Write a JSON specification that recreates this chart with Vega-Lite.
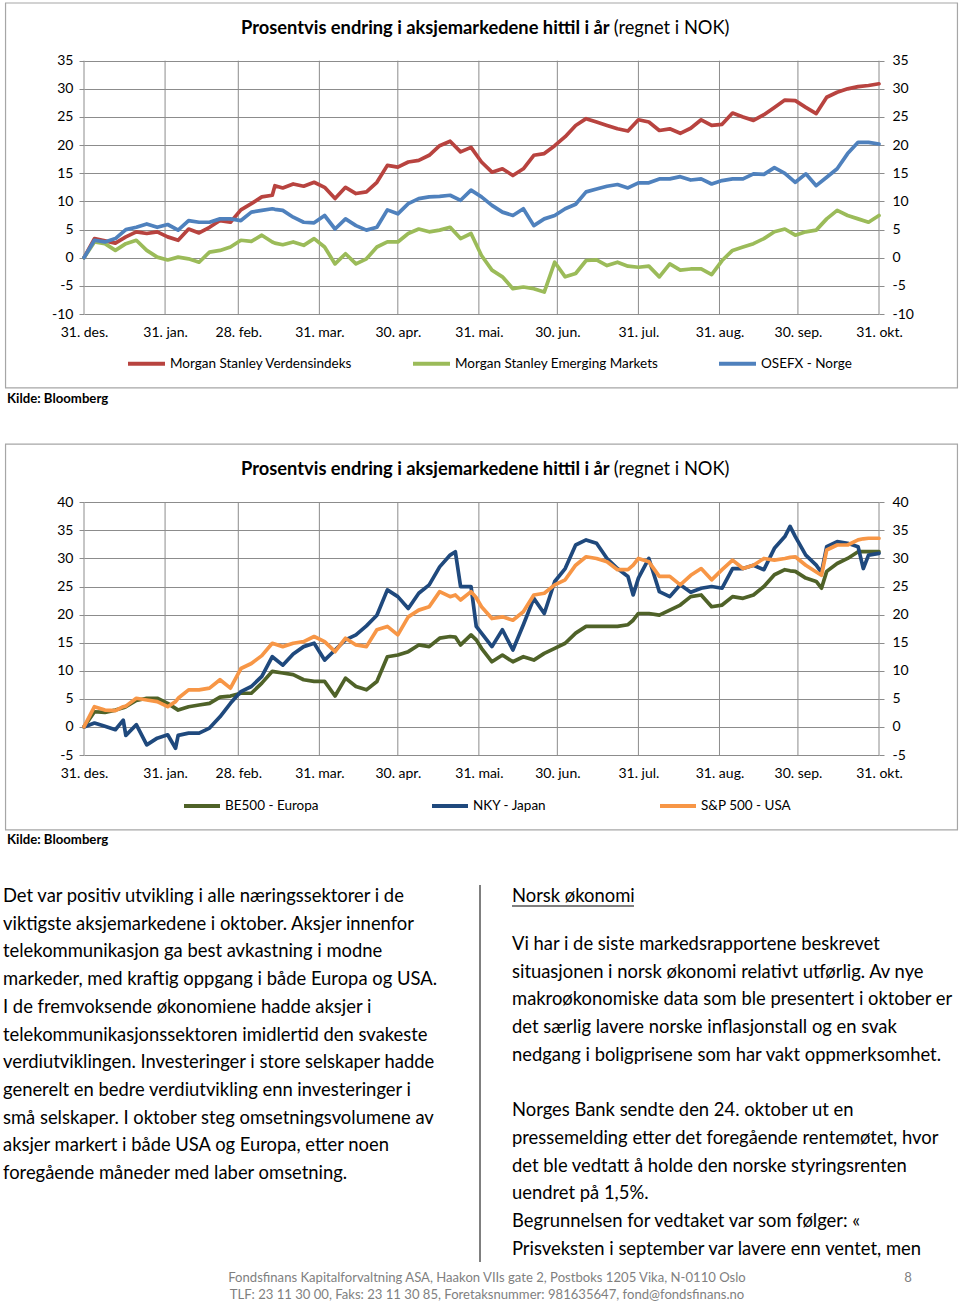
{
  "$schema": "https://vega.github.io/schema/vega-lite/v6.json",
  "width": 960,
  "height": 1304,
  "autosize": "none",
  "padding": 0,
  "background": "white",
  "config": {
    "font": "Lato",
    "view": {"stroke": null},
    "axis": {"labelFont": "Lato", "labelFontSize": 14, "labelColor": "#000000", "title": null},
    "legend": {"labelFont": "Lato", "labelFontSize": 13.5, "labelColor": "#000000", "labelLimit": 400}
  },
  "datasets": {
    "maanedsslutt": [
      {"dato": "2012-12-31"}, {"dato": "2013-01-31"}, {"dato": "2013-02-28"}, {"dato": "2013-03-31"},
      {"dato": "2013-04-30"}, {"dato": "2013-05-31"}, {"dato": "2013-06-30"}, {"dato": "2013-07-31"},
      {"dato": "2013-08-31"}, {"dato": "2013-09-30"}, {"dato": "2013-10-31"}
    ],
    "diagram1": [
      {"dato": "2012-12-31", "verden": 0, "fremvoksende": 0, "osefx": 0},
      {"dato": "2013-01-04", "verden": 3.4, "fremvoksende": 2.8, "osefx": 3.1},
      {"dato": "2013-01-08", "verden": 3.0, "fremvoksende": 2.5, "osefx": 2.8},
      {"dato": "2013-01-12", "verden": 2.6, "fremvoksende": 1.3, "osefx": 3.4},
      {"dato": "2013-01-16", "verden": 3.7, "fremvoksende": 2.5, "osefx": 5.0},
      {"dato": "2013-01-20", "verden": 4.6, "fremvoksende": 3.1, "osefx": 5.4},
      {"dato": "2013-01-24", "verden": 4.3, "fremvoksende": 1.3, "osefx": 6.0},
      {"dato": "2013-01-28", "verden": 4.6, "fremvoksende": 0.1, "osefx": 5.4},
      {"dato": "2013-02-01", "verden": 3.7, "fremvoksende": -0.4, "osefx": 5.9},
      {"dato": "2013-02-05", "verden": 3.1, "fremvoksende": 0.1, "osefx": 4.9},
      {"dato": "2013-02-09", "verden": 5.1, "fremvoksende": -0.2, "osefx": 6.6},
      {"dato": "2013-02-13", "verden": 4.4, "fremvoksende": -0.8, "osefx": 6.3},
      {"dato": "2013-02-17", "verden": 5.4, "fremvoksende": 1.0, "osefx": 6.3},
      {"dato": "2013-02-21", "verden": 6.6, "fremvoksende": 1.3, "osefx": 6.9},
      {"dato": "2013-02-25", "verden": 6.3, "fremvoksende": 1.9, "osefx": 6.9},
      {"dato": "2013-03-01", "verden": 8.5, "fremvoksende": 3.1, "osefx": 6.6},
      {"dato": "2013-03-05", "verden": 9.6, "fremvoksende": 2.9, "osefx": 8.1},
      {"dato": "2013-03-09", "verden": 10.8, "fremvoksende": 4.0, "osefx": 8.4},
      {"dato": "2013-03-13", "verden": 11.1, "fremvoksende": 2.8, "osefx": 8.7},
      {"dato": "2013-03-14", "verden": 12.8, "fremvoksende": 2.6, "osefx": 8.6},
      {"dato": "2013-03-17", "verden": 12.4, "fremvoksende": 2.3, "osefx": 8.4},
      {"dato": "2013-03-21", "verden": 13.1, "fremvoksende": 2.8, "osefx": 7.2},
      {"dato": "2013-03-25", "verden": 12.7, "fremvoksende": 2.2, "osefx": 6.3},
      {"dato": "2013-03-29", "verden": 13.4, "fremvoksende": 3.4, "osefx": 6.2},
      {"dato": "2013-04-02", "verden": 12.5, "fremvoksende": 1.9, "osefx": 7.5},
      {"dato": "2013-04-06", "verden": 10.5, "fremvoksende": -1.1, "osefx": 5.1},
      {"dato": "2013-04-10", "verden": 12.5, "fremvoksende": 0.7, "osefx": 6.9},
      {"dato": "2013-04-14", "verden": 11.4, "fremvoksende": -1.1, "osefx": 5.7},
      {"dato": "2013-04-18", "verden": 11.7, "fremvoksende": -0.2, "osefx": 4.9},
      {"dato": "2013-04-22", "verden": 13.4, "fremvoksende": 1.9, "osefx": 5.4},
      {"dato": "2013-04-26", "verden": 16.4, "fremvoksende": 2.8, "osefx": 8.5},
      {"dato": "2013-04-30", "verden": 16.1, "fremvoksende": 2.8, "osefx": 7.8},
      {"dato": "2013-05-04", "verden": 17.0, "fremvoksende": 4.3, "osefx": 9.6},
      {"dato": "2013-05-08", "verden": 17.3, "fremvoksende": 5.1, "osefx": 10.5},
      {"dato": "2013-05-12", "verden": 18.2, "fremvoksende": 4.6, "osefx": 10.8},
      {"dato": "2013-05-16", "verden": 19.9, "fremvoksende": 4.9, "osefx": 10.9},
      {"dato": "2013-05-20", "verden": 20.7, "fremvoksende": 5.4, "osefx": 11.1},
      {"dato": "2013-05-24", "verden": 18.8, "fremvoksende": 3.4, "osefx": 10.2},
      {"dato": "2013-05-28", "verden": 19.6, "fremvoksende": 4.3, "osefx": 12.0},
      {"dato": "2013-06-01", "verden": 17.0, "fremvoksende": 0.4, "osefx": 10.8},
      {"dato": "2013-06-05", "verden": 15.2, "fremvoksende": -2.2, "osefx": 9.3},
      {"dato": "2013-06-09", "verden": 15.8, "fremvoksende": -3.4, "osefx": 8.1},
      {"dato": "2013-06-13", "verden": 14.6, "fremvoksende": -5.5, "osefx": 7.5},
      {"dato": "2013-06-17", "verden": 15.8, "fremvoksende": -5.2, "osefx": 8.7},
      {"dato": "2013-06-21", "verden": 18.2, "fremvoksende": -5.5, "osefx": 5.7},
      {"dato": "2013-06-25", "verden": 18.5, "fremvoksende": -6.1, "osefx": 6.9},
      {"dato": "2013-06-29", "verden": 19.9, "fremvoksende": -0.8, "osefx": 7.5},
      {"dato": "2013-07-03", "verden": 21.5, "fremvoksende": -3.4, "osefx": 8.7},
      {"dato": "2013-07-07", "verden": 23.5, "fremvoksende": -2.8, "osefx": 9.5},
      {"dato": "2013-07-11", "verden": 24.7, "fremvoksende": -0.5, "osefx": 11.7},
      {"dato": "2013-07-15", "verden": 24.1, "fremvoksende": -0.4, "osefx": 12.2},
      {"dato": "2013-07-19", "verden": 23.5, "fremvoksende": -1.4, "osefx": 12.7},
      {"dato": "2013-07-23", "verden": 22.9, "fremvoksende": -0.8, "osefx": 13.0},
      {"dato": "2013-07-27", "verden": 22.5, "fremvoksende": -1.5, "osefx": 12.4},
      {"dato": "2013-07-31", "verden": 24.5, "fremvoksende": -1.7, "osefx": 13.3},
      {"dato": "2013-08-04", "verden": 24.1, "fremvoksende": -1.5, "osefx": 13.3},
      {"dato": "2013-08-08", "verden": 22.6, "fremvoksende": -3.4, "osefx": 14.0},
      {"dato": "2013-08-12", "verden": 22.9, "fremvoksende": -1.1, "osefx": 14.0},
      {"dato": "2013-08-16", "verden": 22.1, "fremvoksende": -2.2, "osefx": 14.4},
      {"dato": "2013-08-20", "verden": 23.0, "fremvoksende": -2.0, "osefx": 13.8},
      {"dato": "2013-08-24", "verden": 24.5, "fremvoksende": -2.0, "osefx": 14.0},
      {"dato": "2013-08-28", "verden": 23.5, "fremvoksende": -3.0, "osefx": 13.1},
      {"dato": "2013-09-01", "verden": 23.7, "fremvoksende": -0.5, "osefx": 13.7},
      {"dato": "2013-09-05", "verden": 25.7, "fremvoksende": 1.3, "osefx": 14.0},
      {"dato": "2013-09-09", "verden": 25.0, "fremvoksende": 1.9, "osefx": 14.0},
      {"dato": "2013-09-13", "verden": 24.4, "fremvoksende": 2.5, "osefx": 14.9},
      {"dato": "2013-09-17", "verden": 25.4, "fremvoksende": 3.4, "osefx": 14.8},
      {"dato": "2013-09-21", "verden": 26.7, "fremvoksende": 4.6, "osefx": 16.0},
      {"dato": "2013-09-25", "verden": 28.0, "fremvoksende": 5.1, "osefx": 15.0},
      {"dato": "2013-09-29", "verden": 27.9, "fremvoksende": 4.0, "osefx": 13.4},
      {"dato": "2013-10-03", "verden": 26.7, "fremvoksende": 4.6, "osefx": 14.9},
      {"dato": "2013-10-07", "verden": 25.6, "fremvoksende": 4.9, "osefx": 12.8},
      {"dato": "2013-10-11", "verden": 28.5, "fremvoksende": 6.9, "osefx": 14.3},
      {"dato": "2013-10-15", "verden": 29.4, "fremvoksende": 8.4, "osefx": 15.8},
      {"dato": "2013-10-19", "verden": 30.0, "fremvoksende": 7.5, "osefx": 18.5},
      {"dato": "2013-10-23", "verden": 30.4, "fremvoksende": 6.9, "osefx": 20.5},
      {"dato": "2013-10-27", "verden": 30.6, "fremvoksende": 6.3, "osefx": 20.5},
      {"dato": "2013-10-31", "verden": 30.9, "fremvoksende": 7.5, "osefx": 20.2}
    ],
    "diagram2": [
      {"dato": "2012-12-31", "europa": 0, "japan": 0, "usa": 0},
      {"dato": "2013-01-04", "europa": 2.7, "japan": 0.7, "usa": 3.6},
      {"dato": "2013-01-08", "europa": 2.6, "japan": 0.1, "usa": 3.0},
      {"dato": "2013-01-12", "europa": 3.0, "japan": -0.5, "usa": 2.9},
      {"dato": "2013-01-15", "europa": 3.4, "japan": 1.2, "usa": 3.6},
      {"dato": "2013-01-16", "europa": 3.6, "japan": -1.5, "usa": 3.7},
      {"dato": "2013-01-20", "europa": 4.7, "japan": 0.4, "usa": 5.1},
      {"dato": "2013-01-24", "europa": 5.1, "japan": -3.2, "usa": 4.8},
      {"dato": "2013-01-28", "europa": 5.1, "japan": -2.0, "usa": 4.5},
      {"dato": "2013-02-01", "europa": 4.2, "japan": -1.4, "usa": 3.6},
      {"dato": "2013-02-04", "europa": 3.3, "japan": -3.8, "usa": 4.5},
      {"dato": "2013-02-05", "europa": 3.0, "japan": -1.5, "usa": 5.1},
      {"dato": "2013-02-09", "europa": 3.6, "japan": -1.1, "usa": 6.6},
      {"dato": "2013-02-13", "europa": 3.9, "japan": -1.1, "usa": 6.6},
      {"dato": "2013-02-17", "europa": 4.2, "japan": -0.2, "usa": 6.9},
      {"dato": "2013-02-21", "europa": 5.3, "japan": 1.8, "usa": 8.4},
      {"dato": "2013-02-25", "europa": 5.5, "japan": 4.2, "usa": 6.9},
      {"dato": "2013-03-01", "europa": 6.0, "japan": 6.3, "usa": 10.4},
      {"dato": "2013-03-05", "europa": 6.0, "japan": 7.2, "usa": 11.3},
      {"dato": "2013-03-09", "europa": 7.8, "japan": 9.0, "usa": 12.7},
      {"dato": "2013-03-13", "europa": 9.9, "japan": 12.5, "usa": 14.9},
      {"dato": "2013-03-17", "europa": 9.6, "japan": 11.0, "usa": 14.3},
      {"dato": "2013-03-21", "europa": 9.3, "japan": 13.0, "usa": 14.9},
      {"dato": "2013-03-25", "europa": 8.4, "japan": 14.3, "usa": 15.2},
      {"dato": "2013-03-29", "europa": 8.1, "japan": 14.9, "usa": 16.1},
      {"dato": "2013-04-02", "europa": 8.1, "japan": 11.9, "usa": 15.2},
      {"dato": "2013-04-06", "europa": 5.5, "japan": 13.7, "usa": 13.4},
      {"dato": "2013-04-10", "europa": 8.7, "japan": 15.5, "usa": 15.8},
      {"dato": "2013-04-14", "europa": 7.2, "japan": 16.4, "usa": 14.6},
      {"dato": "2013-04-18", "europa": 6.6, "japan": 18.0, "usa": 14.3},
      {"dato": "2013-04-22", "europa": 8.1, "japan": 19.9, "usa": 17.3},
      {"dato": "2013-04-26", "europa": 12.5, "japan": 24.4, "usa": 17.9},
      {"dato": "2013-04-30", "europa": 12.8, "japan": 23.2, "usa": 16.4},
      {"dato": "2013-05-04", "europa": 13.4, "japan": 21.1, "usa": 19.6},
      {"dato": "2013-05-08", "europa": 14.6, "japan": 23.8, "usa": 20.8},
      {"dato": "2013-05-12", "europa": 14.3, "japan": 25.3, "usa": 21.4},
      {"dato": "2013-05-16", "europa": 15.8, "japan": 28.5, "usa": 24.1},
      {"dato": "2013-05-20", "europa": 16.1, "japan": 30.6, "usa": 23.2},
      {"dato": "2013-05-22", "europa": 16.0, "japan": 31.2, "usa": 23.5},
      {"dato": "2013-05-24", "europa": 14.6, "japan": 25.0, "usa": 22.6},
      {"dato": "2013-05-28", "europa": 16.4, "japan": 25.0, "usa": 24.1},
      {"dato": "2013-05-30", "europa": 15.5, "japan": 17.9, "usa": 23.0},
      {"dato": "2013-06-01", "europa": 14.0, "japan": 16.7, "usa": 21.4},
      {"dato": "2013-06-05", "europa": 11.6, "japan": 14.3, "usa": 19.3},
      {"dato": "2013-06-09", "europa": 12.8, "japan": 17.3, "usa": 19.6},
      {"dato": "2013-06-13", "europa": 11.6, "japan": 13.7, "usa": 19.0},
      {"dato": "2013-06-17", "europa": 12.5, "japan": 18.2, "usa": 20.5},
      {"dato": "2013-06-21", "europa": 11.9, "japan": 22.9, "usa": 23.5},
      {"dato": "2013-06-25", "europa": 13.1, "japan": 20.2, "usa": 23.8},
      {"dato": "2013-06-29", "europa": 14.0, "japan": 25.9, "usa": 25.3},
      {"dato": "2013-07-03", "europa": 14.9, "japan": 28.2, "usa": 26.2},
      {"dato": "2013-07-07", "europa": 16.7, "japan": 32.4, "usa": 28.8},
      {"dato": "2013-07-11", "europa": 17.9, "japan": 33.3, "usa": 30.3},
      {"dato": "2013-07-15", "europa": 17.9, "japan": 32.7, "usa": 30.0},
      {"dato": "2013-07-19", "europa": 17.9, "japan": 30.0, "usa": 29.4},
      {"dato": "2013-07-23", "europa": 17.9, "japan": 28.2, "usa": 28.0},
      {"dato": "2013-07-27", "europa": 18.2, "japan": 26.8, "usa": 28.0},
      {"dato": "2013-07-29", "europa": 19.0, "japan": 23.5, "usa": 28.8},
      {"dato": "2013-07-31", "europa": 20.2, "japan": 26.5, "usa": 30.0},
      {"dato": "2013-08-04", "europa": 20.2, "japan": 30.0, "usa": 29.4},
      {"dato": "2013-08-08", "europa": 19.9, "japan": 24.1, "usa": 26.8},
      {"dato": "2013-08-12", "europa": 20.8, "japan": 23.2, "usa": 26.8},
      {"dato": "2013-08-16", "europa": 21.7, "japan": 25.3, "usa": 25.3},
      {"dato": "2013-08-20", "europa": 23.2, "japan": 24.0, "usa": 27.0},
      {"dato": "2013-08-24", "europa": 23.5, "japan": 24.7, "usa": 28.2},
      {"dato": "2013-08-28", "europa": 21.4, "japan": 25.0, "usa": 26.2},
      {"dato": "2013-09-01", "europa": 21.7, "japan": 24.7, "usa": 28.0},
      {"dato": "2013-09-05", "europa": 23.2, "japan": 28.2, "usa": 29.7},
      {"dato": "2013-09-09", "europa": 22.9, "japan": 28.2, "usa": 28.2},
      {"dato": "2013-09-13", "europa": 23.5, "japan": 28.8, "usa": 28.8},
      {"dato": "2013-09-17", "europa": 25.0, "japan": 28.0, "usa": 30.0},
      {"dato": "2013-09-21", "europa": 27.1, "japan": 31.8, "usa": 29.7},
      {"dato": "2013-09-25", "europa": 28.0, "japan": 33.9, "usa": 30.0},
      {"dato": "2013-09-27", "europa": 27.8, "japan": 35.7, "usa": 30.2},
      {"dato": "2013-09-29", "europa": 27.7, "japan": 33.9, "usa": 30.3},
      {"dato": "2013-10-03", "europa": 26.5, "japan": 30.6, "usa": 28.8},
      {"dato": "2013-10-07", "europa": 25.9, "japan": 28.8, "usa": 27.6},
      {"dato": "2013-10-09", "europa": 24.7, "japan": 27.5, "usa": 27.0},
      {"dato": "2013-10-11", "europa": 27.7, "japan": 32.1, "usa": 31.5},
      {"dato": "2013-10-15", "europa": 29.1, "japan": 33.0, "usa": 32.4},
      {"dato": "2013-10-19", "europa": 30.0, "japan": 32.7, "usa": 32.4},
      {"dato": "2013-10-23", "europa": 31.2, "japan": 32.1, "usa": 33.3},
      {"dato": "2013-10-25", "europa": 31.2, "japan": 28.2, "usa": 33.5},
      {"dato": "2013-10-27", "europa": 31.2, "japan": 30.6, "usa": 33.6},
      {"dato": "2013-10-31", "europa": 31.2, "japan": 30.9, "usa": 33.6}
    ],
    "tekst_venstre": [
      {"spalte": "venstre", "linje": 1, "tekst": "Det var positiv utvikling i alle næringssektorer i de"},
      {"spalte": "venstre", "linje": 2, "tekst": "viktigste aksjemarkedene i oktober. Aksjer innenfor"},
      {"spalte": "venstre", "linje": 3, "tekst": "telekommunikasjon ga best avkastning i modne"},
      {"spalte": "venstre", "linje": 4, "tekst": "markeder, med kraftig oppgang i både Europa og USA."},
      {"spalte": "venstre", "linje": 5, "tekst": "I de fremvoksende økonomiene hadde aksjer i"},
      {"spalte": "venstre", "linje": 6, "tekst": "telekommunikasjonssektoren imidlertid den svakeste"},
      {"spalte": "venstre", "linje": 7, "tekst": "verdiutviklingen. Investeringer i store selskaper hadde"},
      {"spalte": "venstre", "linje": 8, "tekst": "generelt en bedre verdiutvikling enn investeringer i"},
      {"spalte": "venstre", "linje": 9, "tekst": "små selskaper. I oktober steg omsetningsvolumene av"},
      {"spalte": "venstre", "linje": 10, "tekst": "aksjer markert i både USA og Europa, etter noen"},
      {"spalte": "venstre", "linje": 11, "tekst": "foregående måneder med laber omsetning."},
      {"spalte": "høyre", "linje": 1, "tekst": "Norsk økonomi"}
    ],
    "tekst_hoyre": [
      {"spalte": "høyre", "linje": 1, "tekst": "Vi har i de siste markedsrapportene beskrevet"},
      {"spalte": "høyre", "linje": 2, "tekst": "situasjonen i norsk økonomi relativt utførlig. Av nye"},
      {"spalte": "høyre", "linje": 3, "tekst": "makroøkonomiske data som ble presentert i oktober er"},
      {"spalte": "høyre", "linje": 4, "tekst": "det særlig lavere norske inflasjonstall og en svak"},
      {"spalte": "høyre", "linje": 5, "tekst": "nedgang i boligprisene som har vakt oppmerksomhet."},
      {"spalte": "høyre", "linje": 7, "tekst": "Norges Bank sendte den 24. oktober ut en"},
      {"spalte": "høyre", "linje": 8, "tekst": "pressemelding etter det foregående rentemøtet, hvor"},
      {"spalte": "høyre", "linje": 9, "tekst": "det ble vedtatt å holde den norske styringsrenten"},
      {"spalte": "høyre", "linje": 10, "tekst": "uendret på 1,5%."},
      {"spalte": "høyre", "linje": 11, "tekst": "Begrunnelsen for vedtaket var som følger: «"},
      {"spalte": "høyre", "linje": 12, "tekst": "Prisveksten i september var lavere enn ventet, men"}
    ],
    "bunntekst": [
      {"posisjon": "midt", "linje": 1, "tekst": "Fondsfinans Kapitalforvaltning ASA, Haakon VIIs gate 2, Postboks 1205 Vika, N-0110 Oslo"},
      {"posisjon": "midt", "linje": 2, "tekst": "TLF: 23 11 30 00, Faks: 23 11 30 85, Foretaksnummer: 981635647, fond@fondsfinans.no"},
      {"posisjon": "side", "linje": 1, "tekst": "8"}
    ]
  },
  "layer": [
    {
      "layer": [
        {
          "data": {"values": [{}]},
          "mark": {"type": "rect", "fill": "transparent", "stroke": "#A6A6A6", "strokeWidth": 1.2},
          "encoding": {
            "x": {"datum": {"year": 2012, "month": 12, "date": 1, "utc": true}, "type": "temporal", "axis": null,
              "scale": {"type": "utc", "domain": [{"year": 2012, "month": 12, "date": 31, "utc": true}, {"year": 2013, "month": 10, "date": 31, "utc": true}], "range": [84, 879], "nice": false}},
            "x2": {"datum": {"year": 2013, "month": 11, "date": 30, "utc": true}},
            "y": {"datum": 45.25, "type": "quantitative", "axis": null, "scale": {"domain": [-10, 35], "range": [314, 60.7], "nice": false, "zero": false}},
            "y2": {"datum": -23.14}
          }
        },
        {
          "data": {"name": "maanedsslutt"},
          "mark": {"type": "rule", "color": "#8C8C8C", "strokeWidth": 1},
          "encoding": {
            "x": {"field": "dato", "type": "temporal", "axis": null,
              "scale": {"type": "utc", "domain": [{"year": 2012, "month": 12, "date": 31, "utc": true}, {"year": 2013, "month": 10, "date": 31, "utc": true}], "range": [84, 879], "nice": false}},
            "y": {"datum": -10, "type": "quantitative", "axis": null, "scale": {"domain": [-10, 35], "range": [314, 60.7], "nice": false, "zero": false}},
            "y2": {"datum": 35}
          }
        },
        {
          "data": {"name": "diagram1"},
          "transform": [{"fold": ["verden", "fremvoksende", "osefx"], "as": ["serie", "prosent"]}],
          "mark": {"type": "line", "strokeWidth": 3.7, "strokeJoin": "round", "strokeCap": "round"},
          "encoding": {
            "x": {"field": "dato", "type": "temporal",
              "scale": {"type": "utc", "domain": [{"year": 2012, "month": 12, "date": 31, "utc": true}, {"year": 2013, "month": 10, "date": 31, "utc": true}], "range": [84, 879], "nice": false},
              "axis": {"orient": "bottom", "offset": -990, "grid": false, "domain": false, "ticks": false, "labelPadding": 11, "labelOverlap": false, "labelFlush": false,
                "values": [{"year": 2012, "month": 12, "date": 31, "utc": true}, {"year": 2013, "month": 1, "date": 31, "utc": true}, {"year": 2013, "month": 2, "date": 28, "utc": true}, {"year": 2013, "month": 3, "date": 31, "utc": true}, {"year": 2013, "month": 4, "date": 30, "utc": true}, {"year": 2013, "month": 5, "date": 31, "utc": true}, {"year": 2013, "month": 6, "date": 30, "utc": true}, {"year": 2013, "month": 7, "date": 31, "utc": true}, {"year": 2013, "month": 8, "date": 31, "utc": true}, {"year": 2013, "month": 9, "date": 30, "utc": true}, {"year": 2013, "month": 10, "date": 31, "utc": true}],
                "labelExpr": "utcdate(datum.value) + '. ' + ['jan.','feb.','mar.','apr.','mai.','jun.','jul.','aug.','sep.','okt.','nov.','des.'][utcmonth(datum.value)]"}},
            "y": {"field": "prosent", "type": "quantitative",
              "scale": {"domain": [-10, 35], "range": [314, 60.7], "nice": false, "zero": false},
              "axis": {"orient": "left", "offset": -84, "values": [-10, -5, 0, 5, 10, 15, 20, 25, 30, 35], "grid": true, "gridColor": "#8C8C8C", "gridWidth": 1, "domain": false, "ticks": true, "tickSize": 5, "tickColor": "#8C8C8C", "labelPadding": 6, "labelExpr": "'' + datum.value"}},
            "color": {"field": "serie", "type": "nominal",
              "scale": {"domain": ["verden", "fremvoksende", "osefx"], "range": ["#B8433F", "#9BBB59", "#4F81BD"]},
              "legend": {"orient": "none", "legendX": 126, "legendY": 343, "direction": "horizontal", "title": null, "symbolType": "stroke", "symbolSize": 1369, "symbolStrokeWidth": 4, "columnPadding": 52, "labelOffset": 3,
                "labelExpr": "datum.value == 'verden' ? 'Morgan Stanley Verdensindeks' : datum.value == 'fremvoksende' ? 'Morgan Stanley Emerging Markets' : 'OSEFX - Norge'"}}
          }
        },
        {
          "data": {"name": "diagram1"},
          "transform": [{"fold": ["verden", "fremvoksende", "osefx"], "as": ["serie", "prosent"]}],
          "mark": {"type": "line", "opacity": 0},
          "encoding": {
            "x": {"field": "dato", "type": "temporal", "axis": null,
              "scale": {"type": "utc", "domain": [{"year": 2012, "month": 12, "date": 31, "utc": true}, {"year": 2013, "month": 10, "date": 31, "utc": true}], "range": [84, 879], "nice": false}},
            "y": {"field": "prosent", "type": "quantitative",
              "scale": {"domain": [-10, 35], "range": [314, 60.7], "nice": false, "zero": false},
              "axis": {"orient": "right", "offset": -81, "values": [-10, -5, 0, 5, 10, 15, 20, 25, 30, 35], "grid": false, "domain": false, "ticks": true, "tickSize": 5, "tickColor": "#8C8C8C", "labelPadding": 8, "labelExpr": "'' + datum.value"}},
            "detail": {"field": "serie"}
          }
        },
        {
          "data": {"values": [{}]},
          "mark": {"type": "text", "text": "Prosentvis endring i aksjemarkedene hittil i år", "align": "right", "baseline": "middle", "fontWeight": "bold", "fontSize": 18.3, "font": "Lato"},
          "encoding": {
            "x": {"datum": {"year": 2013, "month": 7, "date": 20, "utc": true}, "type": "temporal", "axis": null,
              "scale": {"type": "utc", "domain": [{"year": 2012, "month": 12, "date": 31, "utc": true}, {"year": 2013, "month": 10, "date": 31, "utc": true}], "range": [84, 879], "nice": false}},
            "y": {"datum": 40.63, "type": "quantitative", "axis": null, "scale": {"domain": [-10, 35], "range": [314, 60.7], "nice": false, "zero": false}}
          }
        },
        {
          "data": {"values": [{}]},
          "mark": {"type": "text", "text": "(regnet i NOK)", "align": "left", "dx": 4, "baseline": "middle", "fontSize": 18.3, "font": "Lato"},
          "encoding": {
            "x": {"datum": {"year": 2013, "month": 7, "date": 20, "utc": true}, "type": "temporal", "axis": null,
              "scale": {"type": "utc", "domain": [{"year": 2012, "month": 12, "date": 31, "utc": true}, {"year": 2013, "month": 10, "date": 31, "utc": true}], "range": [84, 879], "nice": false}},
            "y": {"datum": 40.63, "type": "quantitative", "axis": null, "scale": {"domain": [-10, 35], "range": [314, 60.7], "nice": false, "zero": false}}
          }
        },
        {
          "data": {"values": [{}]},
          "mark": {"type": "text", "text": "Kilde: Bloomberg", "align": "left", "dx": 1.5, "baseline": "middle", "fontWeight": "bold", "fontSize": 13.2, "font": "Lato"},
          "encoding": {
            "x": {"datum": {"year": 2012, "month": 12, "date": 1, "utc": true}, "type": "temporal", "axis": null,
              "scale": {"type": "utc", "domain": [{"year": 2012, "month": 12, "date": 31, "utc": true}, {"year": 2013, "month": 10, "date": 31, "utc": true}], "range": [84, 879], "nice": false}},
            "y": {"datum": -25.1, "type": "quantitative", "axis": null, "scale": {"domain": [-10, 35], "range": [314, 60.7], "nice": false, "zero": false}}
          }
        }
      ],
      "resolve": {"axis": {"x": "independent", "y": "independent"}}
    },
    {
      "layer": [
        {
          "data": {"values": [{}]},
          "mark": {"type": "rect", "fill": "transparent", "stroke": "#A6A6A6", "strokeWidth": 1.2},
          "encoding": {
            "x": {"datum": {"year": 2012, "month": 12, "date": 1, "utc": true}, "type": "temporal", "axis": null,
              "scale": {"type": "utc", "domain": [{"year": 2012, "month": 12, "date": 31, "utc": true}, {"year": 2013, "month": 10, "date": 31, "utc": true}], "range": [84, 879], "nice": false}},
            "x2": {"datum": {"year": 2013, "month": 11, "date": 30, "utc": true}},
            "y": {"datum": 50.37, "type": "quantitative", "axis": null, "scale": {"domain": [-5, 40], "range": [755, 502.3], "nice": false, "zero": false}},
            "y2": {"datum": -18.35}
          }
        },
        {
          "data": {"name": "maanedsslutt"},
          "mark": {"type": "rule", "color": "#8C8C8C", "strokeWidth": 1},
          "encoding": {
            "x": {"field": "dato", "type": "temporal", "axis": null,
              "scale": {"type": "utc", "domain": [{"year": 2012, "month": 12, "date": 31, "utc": true}, {"year": 2013, "month": 10, "date": 31, "utc": true}], "range": [84, 879], "nice": false}},
            "y": {"datum": -5, "type": "quantitative", "axis": null, "scale": {"domain": [-5, 40], "range": [755, 502.3], "nice": false, "zero": false}},
            "y2": {"datum": 40}
          }
        },
        {
          "data": {"name": "diagram2"},
          "transform": [{"fold": ["europa", "japan", "usa"], "as": ["serie", "prosent"]}],
          "mark": {"type": "line", "strokeWidth": 3.7, "strokeJoin": "round", "strokeCap": "round"},
          "encoding": {
            "x": {"field": "dato", "type": "temporal",
              "scale": {"type": "utc", "domain": [{"year": 2012, "month": 12, "date": 31, "utc": true}, {"year": 2013, "month": 10, "date": 31, "utc": true}], "range": [84, 879], "nice": false},
              "axis": {"orient": "bottom", "offset": -549, "grid": false, "domain": false, "ticks": false, "labelPadding": 11, "labelOverlap": false, "labelFlush": false,
                "values": [{"year": 2012, "month": 12, "date": 31, "utc": true}, {"year": 2013, "month": 1, "date": 31, "utc": true}, {"year": 2013, "month": 2, "date": 28, "utc": true}, {"year": 2013, "month": 3, "date": 31, "utc": true}, {"year": 2013, "month": 4, "date": 30, "utc": true}, {"year": 2013, "month": 5, "date": 31, "utc": true}, {"year": 2013, "month": 6, "date": 30, "utc": true}, {"year": 2013, "month": 7, "date": 31, "utc": true}, {"year": 2013, "month": 8, "date": 31, "utc": true}, {"year": 2013, "month": 9, "date": 30, "utc": true}, {"year": 2013, "month": 10, "date": 31, "utc": true}],
                "labelExpr": "utcdate(datum.value) + '. ' + ['jan.','feb.','mar.','apr.','mai.','jun.','jul.','aug.','sep.','okt.','nov.','des.'][utcmonth(datum.value)]"}},
            "y": {"field": "prosent", "type": "quantitative",
              "scale": {"domain": [-5, 40], "range": [755, 502.3], "nice": false, "zero": false},
              "axis": {"orient": "left", "offset": -84, "values": [-5, 0, 5, 10, 15, 20, 25, 30, 35, 40], "grid": true, "gridColor": "#8C8C8C", "gridWidth": 1, "domain": false, "ticks": true, "tickSize": 5, "tickColor": "#8C8C8C", "labelPadding": 6, "labelExpr": "'' + datum.value"}},
            "color": {"field": "serie", "type": "nominal",
              "scale": {"domain": ["europa", "japan", "usa"], "range": ["#4F6228", "#1F497D", "#F79646"]},
              "legend": {"orient": "none", "legendX": 182, "legendY": 786, "direction": "horizontal", "title": null, "symbolType": "stroke", "symbolSize": 1296, "symbolStrokeWidth": 4, "columnPadding": 105, "labelOffset": 3,
                "labelExpr": "datum.value == 'europa' ? 'BE500 - Europa' : datum.value == 'japan' ? 'NKY - Japan' : 'S&P 500 - USA'"}}
          }
        },
        {
          "data": {"name": "diagram2"},
          "transform": [{"fold": ["europa", "japan", "usa"], "as": ["serie", "prosent"]}],
          "mark": {"type": "line", "opacity": 0},
          "encoding": {
            "x": {"field": "dato", "type": "temporal", "axis": null,
              "scale": {"type": "utc", "domain": [{"year": 2012, "month": 12, "date": 31, "utc": true}, {"year": 2013, "month": 10, "date": 31, "utc": true}], "range": [84, 879], "nice": false}},
            "y": {"field": "prosent", "type": "quantitative",
              "scale": {"domain": [-5, 40], "range": [755, 502.3], "nice": false, "zero": false},
              "axis": {"orient": "right", "offset": -81, "values": [-5, 0, 5, 10, 15, 20, 25, 30, 35, 40], "grid": false, "domain": false, "ticks": true, "tickSize": 5, "tickColor": "#8C8C8C", "labelPadding": 8, "labelExpr": "'' + datum.value"}},
            "detail": {"field": "serie"}
          }
        },
        {
          "data": {"values": [{}]},
          "mark": {"type": "text", "text": "Prosentvis endring i aksjemarkedene hittil i år", "align": "right", "baseline": "middle", "fontWeight": "bold", "fontSize": 18.3, "font": "Lato"},
          "encoding": {
            "x": {"datum": {"year": 2013, "month": 7, "date": 20, "utc": true}, "type": "temporal", "axis": null,
              "scale": {"type": "utc", "domain": [{"year": 2012, "month": 12, "date": 31, "utc": true}, {"year": 2013, "month": 10, "date": 31, "utc": true}], "range": [84, 879], "nice": false}},
            "y": {"datum": 45.75, "type": "quantitative", "axis": null, "scale": {"domain": [-5, 40], "range": [755, 502.3], "nice": false, "zero": false}}
          }
        },
        {
          "data": {"values": [{}]},
          "mark": {"type": "text", "text": "(regnet i NOK)", "align": "left", "dx": 4, "baseline": "middle", "fontSize": 18.3, "font": "Lato"},
          "encoding": {
            "x": {"datum": {"year": 2013, "month": 7, "date": 20, "utc": true}, "type": "temporal", "axis": null,
              "scale": {"type": "utc", "domain": [{"year": 2012, "month": 12, "date": 31, "utc": true}, {"year": 2013, "month": 10, "date": 31, "utc": true}], "range": [84, 879], "nice": false}},
            "y": {"datum": 45.75, "type": "quantitative", "axis": null, "scale": {"domain": [-5, 40], "range": [755, 502.3], "nice": false, "zero": false}}
          }
        },
        {
          "data": {"values": [{}]},
          "mark": {"type": "text", "text": "Kilde: Bloomberg", "align": "left", "dx": 1.5, "baseline": "middle", "fontWeight": "bold", "fontSize": 13.2, "font": "Lato"},
          "encoding": {
            "x": {"datum": {"year": 2012, "month": 12, "date": 1, "utc": true}, "type": "temporal", "axis": null,
              "scale": {"type": "utc", "domain": [{"year": 2012, "month": 12, "date": 31, "utc": true}, {"year": 2013, "month": 10, "date": 31, "utc": true}], "range": [84, 879], "nice": false}},
            "y": {"datum": -20.1, "type": "quantitative", "axis": null, "scale": {"domain": [-5, 40], "range": [755, 502.3], "nice": false, "zero": false}}
          }
        }
      ],
      "resolve": {"axis": {"x": "independent", "y": "independent"}}
    },
    {
      "data": {"name": "tekst_venstre"},
      "mark": {"type": "text", "align": "left", "baseline": "middle", "fontSize": 18.4, "font": "Lato", "color": "#000000"},
      "encoding": {
        "x": {"field": "spalte", "type": "nominal", "axis": null, "scale": {"type": "point", "domain": ["venstre", "høyre"], "range": [3, 512], "padding": 0}},
        "y": {"field": "linje", "type": "quantitative", "axis": null, "scale": {"domain": [1, 11], "range": [896, 1173], "nice": false, "zero": false}},
        "text": {"field": "tekst"}
      }
    },
    {
      "data": {"name": "tekst_venstre"},
      "transform": [{"filter": "datum.spalte == 'høyre'"}],
      "mark": {"type": "tick", "orient": "horizontal", "size": 122, "thickness": 1, "xOffset": 61, "yOffset": 10, "color": "#000000", "opacity": 1},
      "encoding": {
        "x": {"field": "spalte", "type": "nominal", "axis": null, "scale": {"type": "point", "domain": ["venstre", "høyre"], "range": [3, 512], "padding": 0}},
        "y": {"field": "linje", "type": "quantitative", "axis": null, "scale": {"domain": [1, 11], "range": [896, 1173], "nice": false, "zero": false}}
      }
    },
    {
      "data": {"name": "tekst_hoyre"},
      "mark": {"type": "text", "align": "left", "baseline": "middle", "fontSize": 18.4, "font": "Lato", "color": "#000000"},
      "encoding": {
        "x": {"field": "spalte", "type": "nominal", "axis": null, "scale": {"type": "point", "domain": ["venstre", "høyre"], "range": [3, 512], "padding": 0}},
        "y": {"field": "linje", "type": "quantitative", "axis": null, "scale": {"domain": [1, 12], "range": [944, 1248.7], "nice": false, "zero": false}},
        "text": {"field": "tekst"}
      }
    },
    {
      "data": {"values": [{}]},
      "mark": {"type": "rule", "color": "#000000", "strokeWidth": 1, "xOffset": -32},
      "encoding": {
        "x": {"datum": "høyre", "type": "nominal", "axis": null, "scale": {"type": "point", "domain": ["venstre", "høyre"], "range": [3, 512], "padding": 0}},
        "y": {"datum": -1.13, "type": "quantitative", "axis": null, "scale": {"domain": [1, 12], "range": [944, 1248.7], "nice": false, "zero": false}},
        "y2": {"datum": 12.48}
      }
    },
    {
      "data": {"name": "bunntekst"},
      "mark": {"type": "text", "align": "center", "baseline": "middle", "fontSize": 13.1, "font": "Lato", "color": "#7F7F7F"},
      "encoding": {
        "x": {"field": "posisjon", "type": "nominal", "axis": null, "scale": {"type": "point", "domain": ["midt", "side"], "range": [487, 908], "padding": 0}},
        "y": {"field": "linje", "type": "quantitative", "axis": null, "scale": {"domain": [1, 2], "range": [1278, 1295], "nice": false, "zero": false}},
        "text": {"field": "tekst"}
      }
    }
  ],
  "resolve": {
    "scale": {"x": "independent", "y": "independent", "color": "independent"},
    "axis": {"x": "independent", "y": "independent"},
    "legend": {"color": "independent"}
  }
}
